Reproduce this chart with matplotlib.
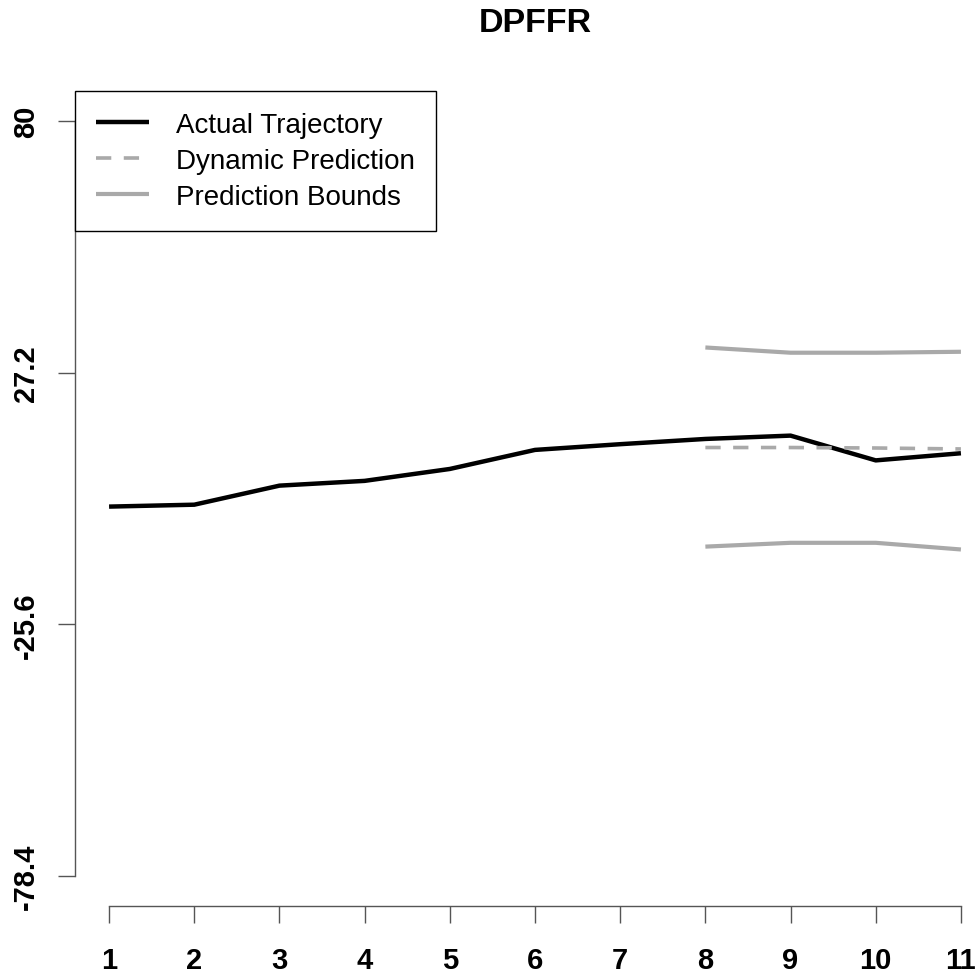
import matplotlib
matplotlib.use("Agg")
import matplotlib.pyplot as plt

# values
time_points = [1, 2, 3, 4, 5, 6, 7, 8, 9, 10, 11]
actual = [-0.9, -0.5, 3.5, 4.5, 7.0, 11.0, 12.2, 13.3, 14.0, 8.8, 10.3]

pred_time = [8, 9, 10, 11]
dynamic_pred = [11.5, 11.5, 11.4, 11.2]
upper_bound = [32.5, 31.4, 31.4, 31.6]
lower_bound = [-9.3, -8.5, -8.5, -9.9]

y_ticks = [80, 27.2, -25.6, -78.4]
y_labels = ["80", "27.2", "-25.6", "-78.4"]
x_labels = [str(t) for t in time_points]

GRAY = "#a9a9a9"
plt.rcParams["font.family"] = ["Liberation Sans", "DejaVu Sans"]
plt.rcParams["lines.scale_dashes"] = False

W, H = 980, 978
fig = plt.figure(figsize=(W / 100, H / 100), dpi=100)
# plot region in pixels: x 75..995, y 92..907 (runs past right edge like the R device)
ax = fig.add_axes([75 / W, 1 - 907 / H, 920 / W, 815 / H])

ax.plot(time_points, actual, color="black", lw=3.2, solid_capstyle="butt",
        label="Actual Trajectory")
ax.plot(pred_time, dynamic_pred, color=GRAY, lw=2.6, dashes=(11, 9),
        label="Dynamic Prediction")
ax.plot(pred_time, upper_bound, color=GRAY, lw=3.0, solid_capstyle="butt",
        label="Prediction Bounds")
ax.plot(pred_time, lower_bound, color=GRAY, lw=3.0, solid_capstyle="butt")

ax.set_xlim(0.6, 11.4)
ax.set_ylim(-78.4 - 0.04 * 158.4, 80 + 0.04 * 158.4)

for side in ["top", "right"]:
    ax.spines[side].set_visible(False)
ax.spines["left"].set_bounds(-78.4, 80)
ax.spines["bottom"].set_bounds(1, 11)
for side in ["left", "bottom"]:
    ax.spines[side].set_color("#555555")
    ax.spines[side].set_linewidth(1.0)

ax.set_xticks(time_points)
ax.set_xticklabels(x_labels, fontsize=21, fontweight="bold")
ax.set_yticks(y_ticks)
ax.set_yticklabels(y_labels, fontsize=21, fontweight="bold", rotation=90, va="center")
ax.tick_params(axis="both", length=12, width=1.0, color="#555555")
ax.tick_params(axis="x", pad=17)
ax.tick_params(axis="y", pad=13)

leg = ax.legend(loc="upper left", bbox_to_anchor=(0, 1), borderaxespad=0,
                fontsize=20, frameon=True, fancybox=False, framealpha=1,
                edgecolor="black", handlelength=1.9, handletextpad=1.0,
                labelspacing=0.36, borderpad=0.75)
leg.get_frame().set_linewidth(1.0)

fig.text((75 + 995) / 2 / W, 1 - 24 / H, "DPFFR", fontsize=24.5, fontweight="bold",
         ha="center", va="center")

fig.savefig("out.png", dpi=100)
